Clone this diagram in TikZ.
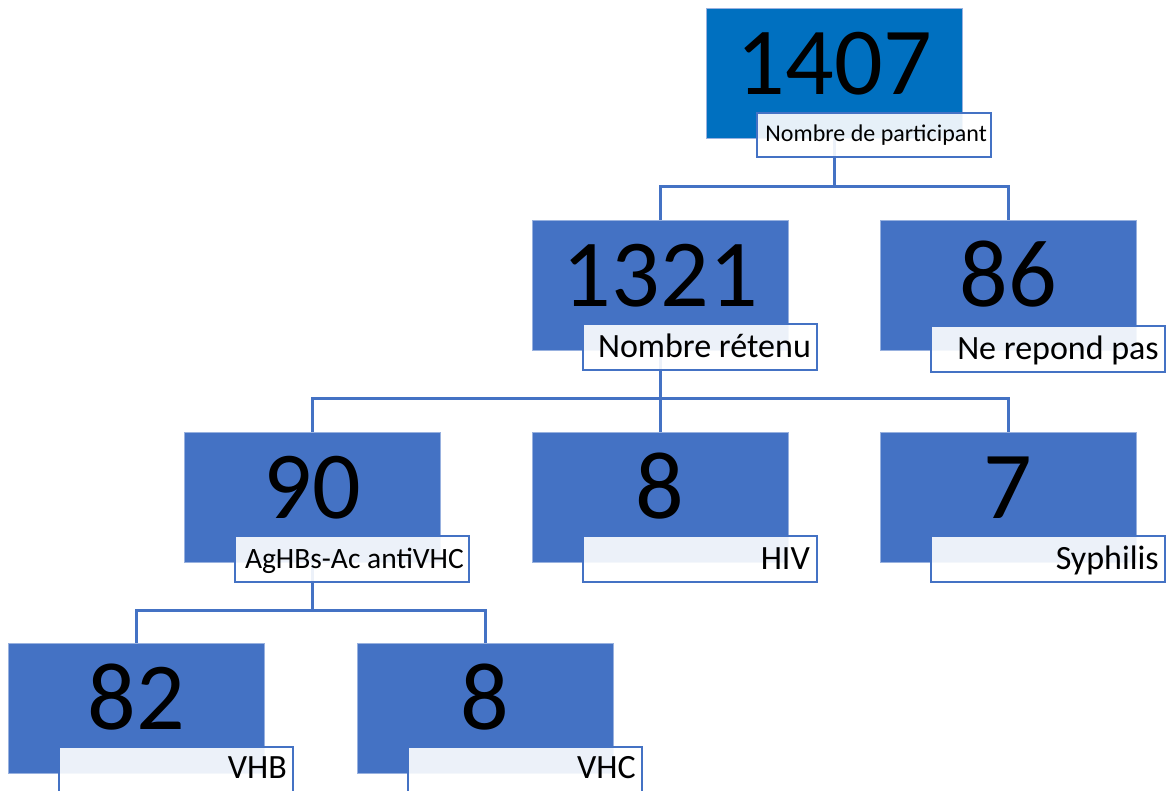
\documentclass[tikz,border=0pt]{standalone}
\usepackage{fontspec}
\setmainfont{Carlito}
\usetikzlibrary{calc}
\definecolor{acc}{HTML}{4472C4}
\definecolor{topc}{HTML}{0070C0}
\tikzset{
  box/.style={rectangle, fill=acc, draw=acc!55!white, line width=0.6pt,
    minimum width=256pt, minimum height=130pt, anchor=north west, inner sep=0pt},
  lab/.style={rectangle, fill=white, fill opacity=0.9, draw=acc, line width=2pt,
    minimum width=234pt, minimum height=46pt, anchor=north west, inner sep=0pt},
  num/.style={font=\fontsize{96}{100}\selectfont, anchor=base, inner sep=0pt, text=black},
  txt/.style={font=\fontsize{34}{38}\selectfont, anchor=base east, inner sep=0pt, text=black},
  conn/.style={draw=acc, line width=2.6pt}
}
\begin{document}
\begin{tikzpicture}[x=1pt,y=-1pt]
\useasboundingbox (0,0) rectangle (1170,790);
\clip (0,0) rectangle (1170,790);
% blue boxes
\node[box, fill=topc] (root) at (706,8) {};
\node[box] (ret) at (532,220) {};
\node[box] (nrp) at (880,220) {};
\node[box] (ag) at (184,432) {};
\node[box] (hiv) at (532,432) {};
\node[box] (syp) at (880,432) {};
\node[box] (vhb) at (8,643) {};
\node[box] (vhc) at (357,643) {};
% numbers
\node[num] (rootn) at ($(root.north)+(0,86)$) {1407};
\node[num] (retn) at ($(ret.north)+(0,86)$) {1321};
\node[num] (nrpn) at ($(nrp.north)+(0,86)$) {86};
\node[num] (agn) at ($(ag.north)+(0,86)$) {90};
\node[num] (hivn) at ($(hiv.north)+(0,86)$) {8};
\node[num] (sypn) at ($(syp.north)+(0,86)$) {7};
\node[num] (vhbn) at ($(vhb.north)+(0,86)$) {82};
\node[num] (vhcn) at ($(vhc.north)+(0,86)$) {8};
% connectors
\draw[conn] (root.south) -- ++(0,48) coordinate (j1);
\draw[conn] (j1) -| (ret.north);
\draw[conn] (j1) -| (nrp.north);
\draw[conn] (ret.south) -- ++(0,48) coordinate (j2);
\draw[conn] (j2) -| (ag.north);
\draw[conn] (j2) -- (hiv.north);
\draw[conn] (j2) -| (syp.north);
\draw[conn] (ag.south) -- ++(0,48) coordinate (j3);
\draw[conn] (j3) -| (vhb.north);
\draw[conn] (j3) -| (vhc.north);
% labels
\node[lab, minimum height=44pt] (rootl) at ($(root.south west)+(50,-27)$) {};
\node[font=\fontsize{24}{28}\selectfont, anchor=base east, inner sep=0pt] (roott) at ($(rootl.south east)+(-5,-16)$) {Nombre de participant};
\node[lab] (retl) at ($(ret.south west)+(50,-28)$) {};
\node[txt] (rett) at ($(retl.south east)+(-7,-13)$) {Nombre rétenu};
\node[lab] (nrpl) at ($(nrp.south west)+(50,-26)$) {};
\node[txt] (nrpt) at ($(nrpl.south east)+(-7,-13)$) {Ne repond pas};
\node[lab] (agl) at ($(ag.south west)+(50,-28)$) {};
\node[txt, font=\fontsize{29.5}{34}\selectfont] (agt) at ($(agl.south east)+(-6,-14)$) {AgHBs-Ac antiVHC};
\node[lab] (hivl) at ($(hiv.south west)+(50,-28)$) {};
\node[txt] (hivt) at ($(hivl.south east)+(-8,-13)$) {HIV};
\node[lab] (sypl) at ($(syp.south west)+(50,-28)$) {};
\node[txt] (sypt) at ($(sypl.south east)+(-7,-13)$) {Syphilis};
\node[lab, minimum height=50pt] (vhbl) at ($(vhb.south west)+(50,-28)$) {};
\node[txt] (vhbt) at ($(vhbl.north east)+(-7,33)$) {VHB};
\node[lab, minimum height=50pt] (vhcl) at ($(vhc.south west)+(50,-28)$) {};
\node[txt] (vhct) at ($(vhcl.north east)+(-7,33)$) {VHC};
\end{tikzpicture}
\end{document}
